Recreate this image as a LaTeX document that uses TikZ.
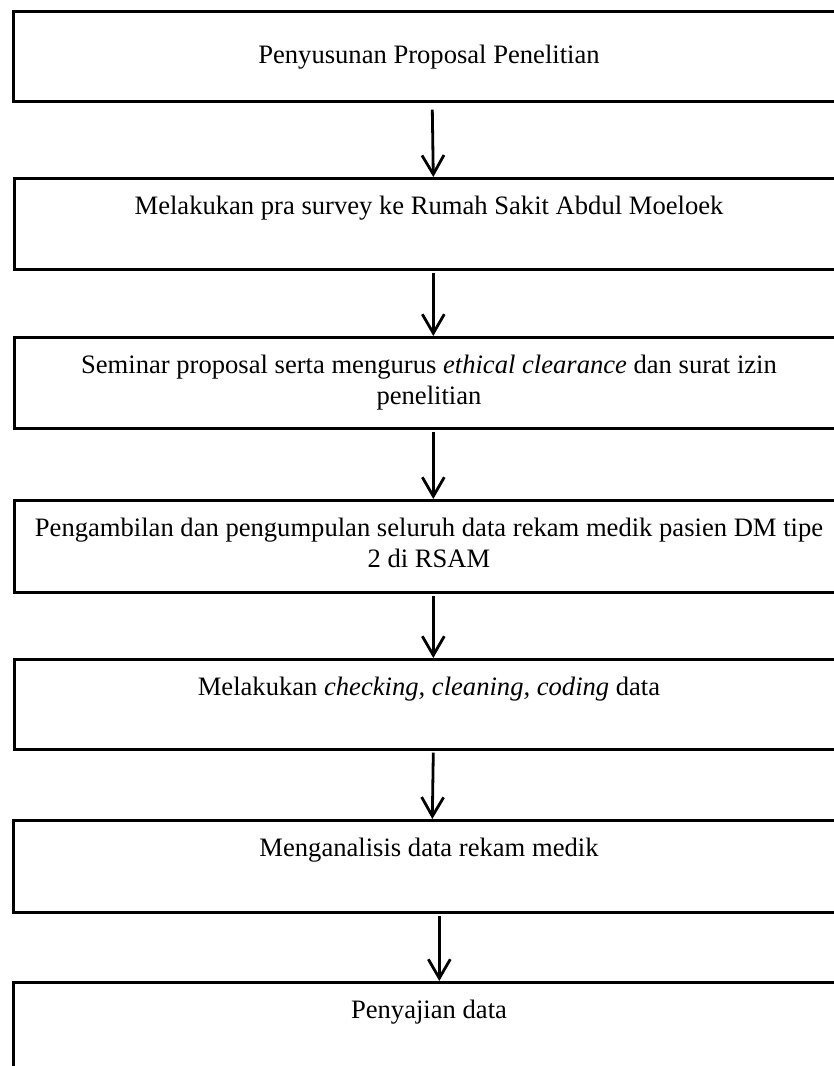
\documentclass[tikz,border=0pt]{standalone}
\usepackage{fontspec}
\setmainfont{Liberation Serif}
\usetikzlibrary{arrows.meta}
\begin{document}
\begin{tikzpicture}[x=1pt,y=-1pt,
  stepbox/.style={draw=black,line width=2.6pt,rectangle,minimum width=834pt,minimum height=#1,anchor=north west,inner sep=0pt},
  stepbox/.default=91pt,
  steptext/.style={anchor=north,font=\fontsize{26.6}{30.6}\selectfont,align=center,inner sep=0pt},
  flow/.style={line width=2.8pt,-{Straight Barb[length=19pt,width=22pt,line width=2.8pt]}}]
\useasboundingbox (0,0) rectangle (834,1066);
\clip (0,0) rectangle (834,1066);
\node[stepbox=90pt] (b1) at (12,10) {};
\node[stepbox=91pt] (b2) at (13,177) {};
\node[stepbox=91pt] (b3) at (13,336) {};
\node[stepbox=92pt] (b4) at (13,499) {};
\node[stepbox=90pt] (b5) at (13,658) {};
\node[stepbox=92pt] (b6) at (12,819) {};
\node[stepbox=110pt] (b7) at (12,981) {};
\node[steptext] (t1) at (429,45) {Penyusunan Proposal Penelitian};
\node[steptext] (t2) at (429,196) {Melakukan pra survey ke Rumah Sakit Abdul Moeloek};
\node[steptext] (t3) at (429,355) {Seminar proposal serta mengurus \textit{ethical clearance} dan surat izin\\penelitian};
\node[steptext] (t4) at (429,518) {Pengambilan dan pengumpulan seluruh data rekam medik pasien DM tipe\\2 di RSAM};
\node[steptext] (t5) at (429,677) {Melakukan \textit{checking, cleaning, coding} data};
\node[steptext] (t6) at (429,838) {Menganalisis data rekam medik};
\node[steptext] (t7) at (429,1000) {Penyajian data};
\draw[flow] ([xshift=2pt,yshift=-7pt]b1.south) -- ([xshift=2pt]b2.north);
\draw[flow] ([xshift=2pt,yshift=-2pt]b2.south) -- ([xshift=2pt]b3.north);
\draw[flow] ([xshift=2pt,yshift=-2pt]b3.south) -- ([xshift=2pt]b4.north);
\draw[flow] ([xshift=2pt,yshift=-2pt]b4.south) -- ([xshift=2pt]b5.north);
\draw[flow] ([xshift=2pt,yshift=-2pt]b5.south) -- ([xshift=2pt]b6.north);
\draw[flow] ([xshift=9pt,yshift=-2pt]b6.south) -- ([xshift=9pt]b7.north);
\end{tikzpicture}
\end{document}
